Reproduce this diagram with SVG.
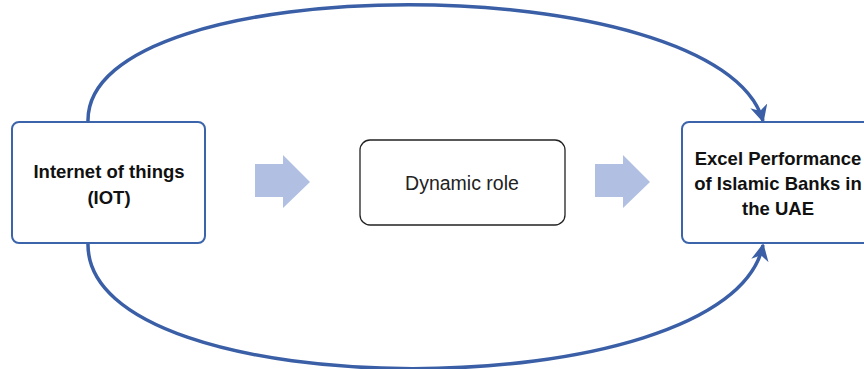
<svg xmlns="http://www.w3.org/2000/svg" width="864" height="369" viewBox="0 0 864 369">
<style>
.box{fill:#fff;stroke:#3b64ab;stroke-width:2}
.mid{fill:#fff;stroke:#222;stroke-width:1.3}
.bt{font-family:"Liberation Sans",Arial,sans-serif;font-weight:bold;font-size:18.5px;fill:#111;text-anchor:middle}
.rt{font-family:"Liberation Sans",Arial,sans-serif;font-size:19.5px;fill:#222;text-anchor:middle}
.conn{fill:none;stroke:#3a5fa6;stroke-width:3.5;marker-end:url(#ah)}
.blk{fill:#b1c0e2}
</style>
<defs>
<marker id="ah" viewBox="0 0 10 10" refX="9" refY="5" markerWidth="5" markerHeight="5" orient="auto-start-reverse" markerUnits="strokeWidth">
<path d="M0,0 L10,5 L0,10 L3,5 Z" fill="#3a5fa6"/>
</marker>
</defs>
<g id="connectors">
<path class="conn" d="M88,121 C86,-34 720,-34 763,121"/>
<path class="conn" d="M88,244 C86,410 730,410 763,245"/>
</g>
<g id="iot">
<rect class="box" x="12" y="122" width="193" height="121" rx="7"/>
<text class="bt" x="109" y="178">Internet of things</text>
<text class="bt" x="109" y="204">(IOT)</text>
</g>
<g id="arrow1"><path class="blk" d="M255,164 H283 V155 L310,182 L283,208 V197 H255 Z"/></g>
<g id="dynamic">
<rect class="mid" x="360" y="140" width="205" height="85" rx="10"/>
<text class="rt" x="462" y="190">Dynamic role</text>
</g>
<g id="arrow2"><path class="blk" d="M595,164 H623 V155 L650,182 L623,208 V197 H595 Z"/></g>
<g id="excel">
<rect class="box" x="682" y="122" width="200" height="121" rx="7"/>
<text class="bt" x="778" y="165">Excel Performance</text>
<text class="bt" x="778" y="190">of Islamic Banks in</text>
<text class="bt" x="778" y="215">the UAE</text>
</g>
</svg>
